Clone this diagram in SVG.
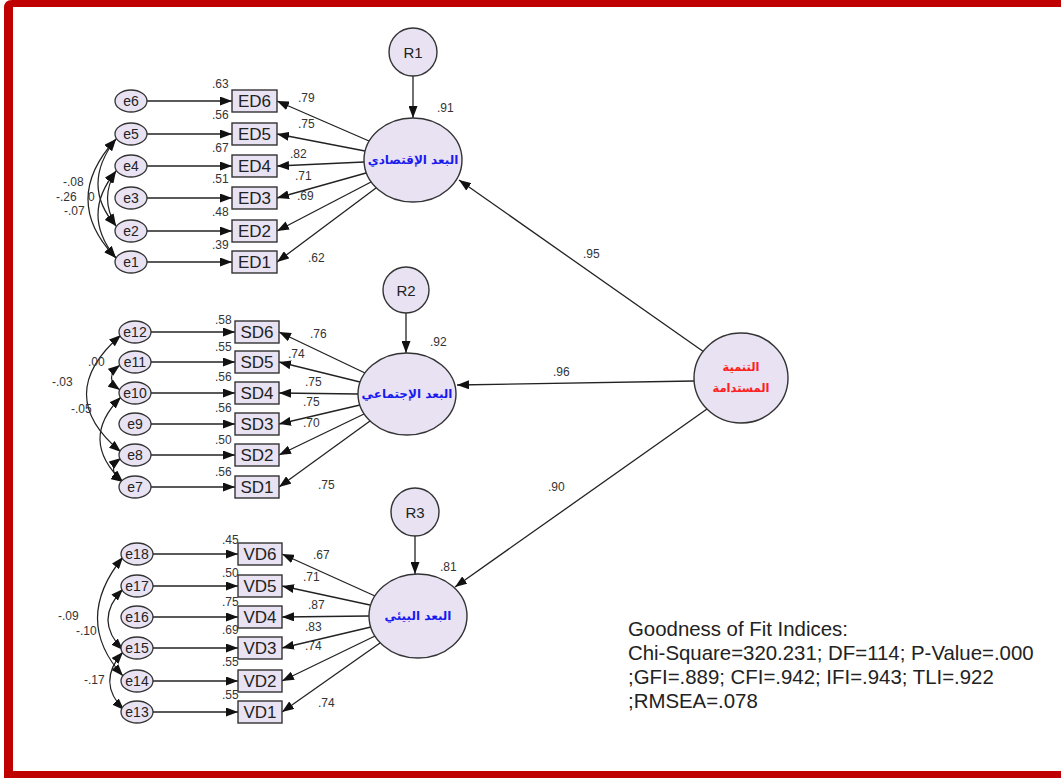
<svg xmlns="http://www.w3.org/2000/svg" width="1061" height="778" viewBox="0 0 1061 778">
<defs>
<style>
.lat{fill:#e8e2f2;stroke:#333;stroke-width:1.4}
.obs{fill:#e8e2f2;stroke:#333;stroke-width:1.4}
.err{fill:#e8e2f2;stroke:#333;stroke-width:1.3}
.ln{fill:none;stroke:#222;stroke-width:1.3;marker-end:url(#ah)}
.cov{fill:none;stroke:#222;stroke-width:1.2;marker-start:url(#ah);marker-end:url(#ah)}
.t{font-family:"Liberation Sans",Arial,sans-serif;fill:#222}
.nm{font-size:17px;text-anchor:middle;dominant-baseline:central}
.en{font-size:14px;text-anchor:middle;dominant-baseline:central}
.rn{font-size:15px;text-anchor:middle;dominant-baseline:central}
.v{font-size:12px;fill:#333}
.ar{font-family:"DejaVu Sans",sans-serif;font-weight:bold;text-anchor:middle;dominant-baseline:central}
.fit{font-family:"Liberation Sans",Arial,sans-serif;font-size:20.4px;fill:#222}
</style>
<marker id="ah" viewBox="0 0 12 9" refX="12" refY="4.5" markerWidth="12" markerHeight="9" markerUnits="userSpaceOnUse" orient="auto-start-reverse">
<path d="M0,0 L12,4.5 L0,9 z" fill="#111"/>
</marker>
</defs>
<rect width="1061" height="778" fill="#fff"/>
<path fill="#c00000" fill-rule="evenodd" d="M4,8 Q4,0 12,0 H1061 V778 H4 Z M13,7 H1061 V771 H13 Z"/>

<g id="connectors">
<line class="ln" x1="704" y1="352" x2="459" y2="180"/>
<line class="ln" x1="694" y1="381" x2="457" y2="385"/>
<line class="ln" x1="707" y1="409" x2="455" y2="587"/>
<line class="ln" x1="413" y1="76" x2="413" y2="118"/>
<line class="ln" x1="406" y1="313" x2="406" y2="353"/>
<line class="ln" x1="415" y1="536" x2="415" y2="574"/>
<line class="ln" x1="369" y1="141" x2="277" y2="101"/>
<line class="ln" x1="365" y1="151" x2="277" y2="134"/>
<line class="ln" x1="364" y1="162" x2="277" y2="166"/>
<line class="ln" x1="366" y1="173" x2="277" y2="198"/>
<line class="ln" x1="371" y1="182" x2="277" y2="231"/>
<line class="ln" x1="376" y1="188" x2="277" y2="262"/>
<line class="ln" x1="365" y1="373" x2="279" y2="332"/>
<line class="ln" x1="360" y1="382" x2="279" y2="362"/>
<line class="ln" x1="358" y1="394" x2="279" y2="393"/>
<line class="ln" x1="360" y1="405" x2="279" y2="424"/>
<line class="ln" x1="364" y1="414" x2="279" y2="455"/>
<line class="ln" x1="370" y1="421" x2="279" y2="487"/>
<line class="ln" x1="375" y1="596" x2="282" y2="554"/>
<line class="ln" x1="370" y1="605" x2="282" y2="586"/>
<line class="ln" x1="369" y1="616" x2="282" y2="617"/>
<line class="ln" x1="371" y1="627" x2="282" y2="648"/>
<line class="ln" x1="375" y1="636" x2="282" y2="681"/>
<line class="ln" x1="380" y1="643" x2="282" y2="712"/>
<line class="ln" x1="147" y1="101" x2="232" y2="101"/>
<line class="ln" x1="147" y1="134" x2="232" y2="134"/>
<line class="ln" x1="147" y1="166" x2="232" y2="166"/>
<line class="ln" x1="147" y1="198" x2="232" y2="198"/>
<line class="ln" x1="147" y1="231" x2="232" y2="231"/>
<line class="ln" x1="147" y1="262" x2="232" y2="262"/>
<line class="ln" x1="151" y1="332" x2="235" y2="332"/>
<line class="ln" x1="151" y1="362" x2="235" y2="362"/>
<line class="ln" x1="151" y1="393" x2="235" y2="393"/>
<line class="ln" x1="151" y1="424" x2="235" y2="424"/>
<line class="ln" x1="151" y1="455" x2="235" y2="455"/>
<line class="ln" x1="151" y1="487" x2="235" y2="487"/>
<line class="ln" x1="153" y1="554" x2="238" y2="554"/>
<line class="ln" x1="153" y1="586" x2="238" y2="586"/>
<line class="ln" x1="153" y1="617" x2="238" y2="617"/>
<line class="ln" x1="153" y1="648" x2="238" y2="648"/>
<line class="ln" x1="153" y1="681" x2="238" y2="681"/>
<line class="ln" x1="153" y1="712" x2="238" y2="712"/>
<path class="cov" d="M116,139 Q80,185 116,226"/>
<path class="cov" d="M116,139 Q60,200 116,258"/>
<path class="cov" d="M116,171 Q80,215 116,258"/>
<path class="cov" d="M116,171 Q99,198 116,226"/>
<path class="cov" d="M121,335 Q52,395 121,452"/>
<path class="cov" d="M120,365 Q103,378 120,390"/>
<path class="cov" d="M121,397 Q78,440 123,482"/>
<path class="cov" d="M121,458 Q105,470 123,482"/>
<path class="cov" d="M123,557 Q72,620 123,676"/>
<path class="cov" d="M123,589 Q93,620 123,650"/>
<path class="cov" d="M123,652 Q96,682 124,710"/>
</g>

<g id="labels" class="t v">
<text x="583" y="258">.95</text>
<text x="553" y="376">.96</text>
<text x="548" y="491">.90</text>
<text x="437" y="112">.91</text>
<text x="430" y="346">.92</text>
<text x="440" y="571">.81</text>
<text x="298" y="102">.79</text>
<text x="298" y="128">.75</text>
<text x="290" y="158">.82</text>
<text x="295" y="180">.71</text>
<text x="297" y="200">.69</text>
<text x="308" y="262">.62</text>
<text x="212" y="88">.63</text>
<text x="212" y="119">.56</text>
<text x="212" y="152">.67</text>
<text x="212" y="183">.51</text>
<text x="212" y="216">.48</text>
<text x="212" y="249">.39</text>
<text x="310" y="338">.76</text>
<text x="288" y="358">.74</text>
<text x="305" y="386">.75</text>
<text x="303" y="406">.75</text>
<text x="303" y="427">.70</text>
<text x="318" y="489">.75</text>
<text x="215" y="324">.58</text>
<text x="215" y="351">.55</text>
<text x="215" y="381">.56</text>
<text x="215" y="412">.56</text>
<text x="215" y="444">.50</text>
<text x="215" y="476">.56</text>
<text x="313" y="559">.67</text>
<text x="303" y="581">.71</text>
<text x="308" y="609">.87</text>
<text x="305" y="631">.83</text>
<text x="305" y="650">.74</text>
<text x="318" y="707">.74</text>
<text x="222" y="544">.45</text>
<text x="222" y="577">.50</text>
<text x="222" y="606">.75</text>
<text x="222" y="634">.69</text>
<text x="222" y="666">.55</text>
<text x="222" y="699">.55</text>
<text x="63" y="186">-.08</text>
<text x="56" y="201">-.26</text>
<text x="88" y="201">0</text>
<text x="64" y="215">-.07</text>
<text x="88" y="366">.00</text>
<text x="52" y="386">-.03</text>
<text x="71" y="413">-.05</text>
<text x="58" y="620">-.09</text>
<text x="76" y="635">-.10</text>
<text x="84" y="684">-.17</text>
</g>

<g id="R1"><circle class="lat" cx="413" cy="52" r="24"/><text class="t rn" x="413" y="52">R1</text></g>
<g id="R2"><circle class="lat" cx="406" cy="290" r="23"/><text class="t rn" x="406" y="290">R2</text></g>
<g id="R3"><circle class="lat" cx="415" cy="512" r="24"/><text class="t rn" x="415" y="512">R3</text></g>

<g id="F1"><ellipse class="lat" cx="413" cy="160" rx="49" ry="42"/><text class="ar" x="413" y="160" font-size="12" fill="#1a1aee">البعد الإقتصادي</text></g>
<g id="F2"><ellipse class="lat" cx="407" cy="394" rx="49" ry="41"/><text class="ar" x="407" y="394" font-size="12" fill="#1a1aee">البعد الإجتماعي</text></g>
<g id="F3"><ellipse class="lat" cx="418" cy="616" rx="49" ry="42"/><text class="ar" x="418" y="616" font-size="12" fill="#1a1aee">البعد البيئي</text></g>
<g id="SD"><ellipse class="lat" cx="741" cy="378" rx="47" ry="45"/><text class="ar" x="741" y="367" font-size="11.5" fill="#ff2020">التنمية</text><text class="ar" x="741" y="388" font-size="11.5" fill="#ff2020">المستدامة</text></g>

<g id="ED6"><rect class="obs" x="232" y="90" width="45" height="22"/><text class="t nm" x="254.5" y="101">ED6</text></g>
<g id="ED5"><rect class="obs" x="232" y="123" width="45" height="22"/><text class="t nm" x="254.5" y="134">ED5</text></g>
<g id="ED4"><rect class="obs" x="232" y="155" width="45" height="22"/><text class="t nm" x="254.5" y="166">ED4</text></g>
<g id="ED3"><rect class="obs" x="232" y="187" width="45" height="22"/><text class="t nm" x="254.5" y="198">ED3</text></g>
<g id="ED2"><rect class="obs" x="232" y="220" width="45" height="22"/><text class="t nm" x="254.5" y="231">ED2</text></g>
<g id="ED1"><rect class="obs" x="232" y="251" width="45" height="22"/><text class="t nm" x="254.5" y="262">ED1</text></g>

<g id="SD6"><rect class="obs" x="235" y="321" width="44" height="22"/><text class="t nm" x="257" y="332">SD6</text></g>
<g id="SD5"><rect class="obs" x="235" y="351" width="44" height="22"/><text class="t nm" x="257" y="362">SD5</text></g>
<g id="SD4"><rect class="obs" x="235" y="382" width="44" height="22"/><text class="t nm" x="257" y="393">SD4</text></g>
<g id="SD3"><rect class="obs" x="235" y="413" width="44" height="22"/><text class="t nm" x="257" y="424">SD3</text></g>
<g id="SD2"><rect class="obs" x="235" y="444" width="44" height="22"/><text class="t nm" x="257" y="455">SD2</text></g>
<g id="SD1"><rect class="obs" x="235" y="476" width="44" height="22"/><text class="t nm" x="257" y="487">SD1</text></g>

<g id="VD6"><rect class="obs" x="238" y="543" width="44" height="22"/><text class="t nm" x="260" y="554">VD6</text></g>
<g id="VD5"><rect class="obs" x="238" y="575" width="44" height="22"/><text class="t nm" x="260" y="586">VD5</text></g>
<g id="VD4"><rect class="obs" x="238" y="606" width="44" height="22"/><text class="t nm" x="260" y="617">VD4</text></g>
<g id="VD3"><rect class="obs" x="238" y="637" width="44" height="22"/><text class="t nm" x="260" y="648">VD3</text></g>
<g id="VD2"><rect class="obs" x="238" y="670" width="44" height="22"/><text class="t nm" x="260" y="681">VD2</text></g>
<g id="VD1"><rect class="obs" x="238" y="701" width="44" height="22"/><text class="t nm" x="260" y="712">VD1</text></g>

<g id="e6"><ellipse class="err" cx="131" cy="101" rx="16" ry="11"/><text class="t en" x="131" y="101">e6</text></g>
<g id="e5"><ellipse class="err" cx="131" cy="134" rx="16" ry="11"/><text class="t en" x="131" y="134">e5</text></g>
<g id="e4"><ellipse class="err" cx="131" cy="166" rx="16" ry="11"/><text class="t en" x="131" y="166">e4</text></g>
<g id="e3"><ellipse class="err" cx="131" cy="198" rx="16" ry="11"/><text class="t en" x="131" y="198">e3</text></g>
<g id="e2"><ellipse class="err" cx="131" cy="231" rx="16" ry="11"/><text class="t en" x="131" y="231">e2</text></g>
<g id="e1"><ellipse class="err" cx="131" cy="262" rx="16" ry="11"/><text class="t en" x="131" y="262">e1</text></g>

<g id="e12"><ellipse class="err" cx="135" cy="332" rx="16" ry="11"/><text class="t en" x="135" y="332">e12</text></g>
<g id="e11"><ellipse class="err" cx="135" cy="362" rx="16" ry="11"/><text class="t en" x="135" y="362">e11</text></g>
<g id="e10"><ellipse class="err" cx="135" cy="393" rx="16" ry="11"/><text class="t en" x="135" y="393">e10</text></g>
<g id="e9"><ellipse class="err" cx="135" cy="424" rx="16" ry="11"/><text class="t en" x="135" y="424">e9</text></g>
<g id="e8"><ellipse class="err" cx="135" cy="455" rx="16" ry="11"/><text class="t en" x="135" y="455">e8</text></g>
<g id="e7"><ellipse class="err" cx="135" cy="487" rx="16" ry="11"/><text class="t en" x="135" y="487">e7</text></g>

<g id="e18"><ellipse class="err" cx="137" cy="554" rx="16" ry="11"/><text class="t en" x="137" y="554">e18</text></g>
<g id="e17"><ellipse class="err" cx="137" cy="586" rx="16" ry="11"/><text class="t en" x="137" y="586">e17</text></g>
<g id="e16"><ellipse class="err" cx="137" cy="617" rx="16" ry="11"/><text class="t en" x="137" y="617">e16</text></g>
<g id="e15"><ellipse class="err" cx="137" cy="648" rx="16" ry="11"/><text class="t en" x="137" y="648">e15</text></g>
<g id="e14"><ellipse class="err" cx="137" cy="681" rx="16" ry="11"/><text class="t en" x="137" y="681">e14</text></g>
<g id="e13"><ellipse class="err" cx="137" cy="712" rx="16" ry="11"/><text class="t en" x="137" y="712">e13</text></g>

<g id="fit">
<text class="fit" x="628" y="636">Goodness of Fit Indices:</text>
<text class="fit" x="628" y="660">Chi-Square=320.231; DF=114; P-Value=.000</text>
<text class="fit" x="628" y="684">;GFI=.889; CFI=.942; IFI=.943; TLI=.922</text>
<text class="fit" x="628" y="708">;RMSEA=.078</text>
</g>
</svg>
